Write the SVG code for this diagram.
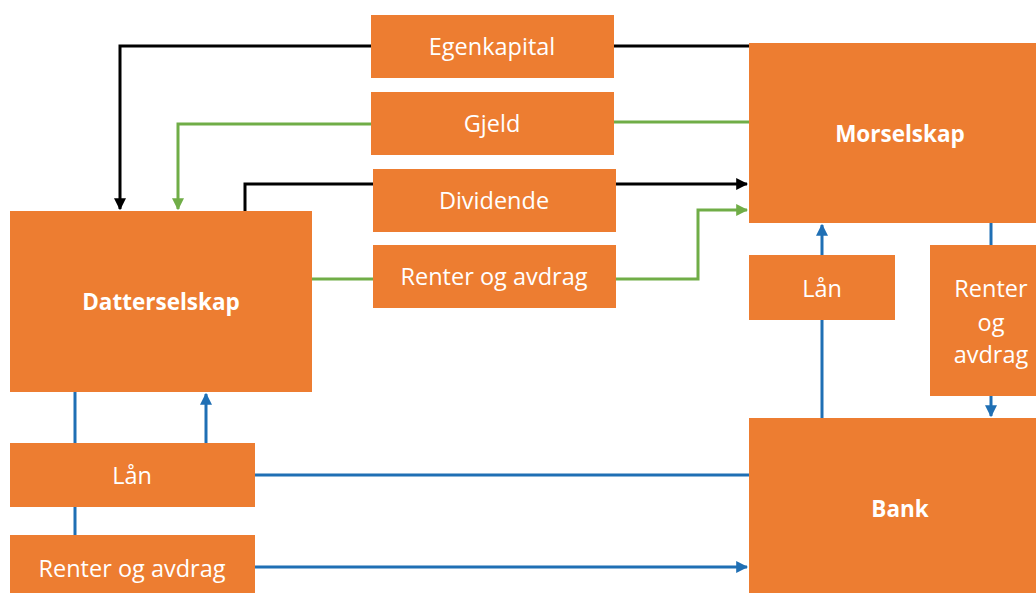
<svg xmlns="http://www.w3.org/2000/svg" width="1036" height="593" viewBox="0 0 1036 593">
<defs>
<style>
.box{fill:#ED7D31}
.t{font-family:"Open Sans","Noto Sans",sans-serif;font-size:23.5px;fill:#fff;text-anchor:middle}
.b{font-weight:bold;font-size:22.5px}
.k{fill:none;stroke:#000;stroke-width:3}
.g{fill:none;stroke:#70AD47;stroke-width:3}
.u{fill:none;stroke:#1F6FB4;stroke-width:3}
</style>
<marker id="ak" viewBox="0 0 10 10" refX="9" refY="5" markerWidth="4" markerHeight="4" orient="auto" markerUnits="strokeWidth"><path d="M0,0L10,5L0,10z" fill="#000"/></marker>
<marker id="ag" viewBox="0 0 10 10" refX="9" refY="5" markerWidth="4" markerHeight="4" orient="auto" markerUnits="strokeWidth"><path d="M0,0L10,5L0,10z" fill="#70AD47"/></marker>
<marker id="au" viewBox="0 0 10 10" refX="9" refY="5" markerWidth="4" markerHeight="4" orient="auto" markerUnits="strokeWidth"><path d="M0,0L10,5L0,10z" fill="#1F6FB4"/></marker>
</defs>
<rect width="1036" height="593" fill="#fff"/>
<g id="connectors">
<path class="k" d="M371,46H120V209" marker-end="url(#ak)"/>
<path class="k" d="M614,46H749"/>
<path class="g" d="M371,124H178V209" marker-end="url(#ag)"/>
<path class="g" d="M614,122H749"/>
<path class="k" d="M245,211V184H373"/>
<path class="k" d="M616,184H747" marker-end="url(#ak)"/>
<path class="g" d="M312,279H373"/>
<path class="g" d="M616,279H698V210H747" marker-end="url(#ag)"/>
<path class="u" d="M822,255V225" marker-end="url(#au)"/>
<path class="u" d="M822,418V320"/>
<path class="u" d="M991,223V245"/>
<path class="u" d="M991,396V416" marker-end="url(#au)"/>
<path class="u" d="M75,392V443"/>
<path class="u" d="M75,507V535"/>
<path class="u" d="M206,443V394" marker-end="url(#au)"/>
<path class="u" d="M255,475H749"/>
<path class="u" d="M255,567H747" marker-end="url(#au)"/>
</g>
<g id="egenkapital"><rect class="box" x="371" y="15" width="243" height="63"/><text class="t" x="492" y="55">Egenkapital</text></g>
<g id="gjeld"><rect class="box" x="371" y="92" width="243" height="63"/><text class="t" x="492" y="132">Gjeld</text></g>
<g id="dividende"><rect class="box" x="373" y="169" width="243" height="63"/><text class="t" x="494" y="209">Dividende</text></g>
<g id="renter-top"><rect class="box" x="373" y="245" width="243" height="63"/><text class="t" x="494" y="285">Renter og avdrag</text></g>
<g id="morselskap"><rect class="box" x="749" y="43" width="290" height="180"/><text class="t b" x="900" y="142">Morselskap</text></g>
<g id="datterselskap"><rect class="box" x="10" y="211" width="302" height="181"/><text class="t b" x="161" y="310">Datterselskap</text></g>
<g id="laan-left"><rect class="box" x="10" y="443" width="245" height="64"/><text class="t" x="132" y="484">Lån</text></g>
<g id="renter-left"><rect class="box" x="10" y="535" width="245" height="60"/><text class="t" x="132" y="577">Renter og avdrag</text></g>
<g id="bank"><rect class="box" x="749" y="418" width="290" height="177"/><text class="t b" x="900" y="517">Bank</text></g>
<g id="laan-right"><rect class="box" x="749" y="255" width="146" height="65"/><text class="t" x="822" y="297">Lån</text></g>
<g id="renter-right"><rect class="box" x="930" y="245" width="110" height="151"/><text class="t" x="991" y="297">Renter</text><text class="t" x="991" y="331">og</text><text class="t" x="991" y="363">avdrag</text></g>
</svg>
